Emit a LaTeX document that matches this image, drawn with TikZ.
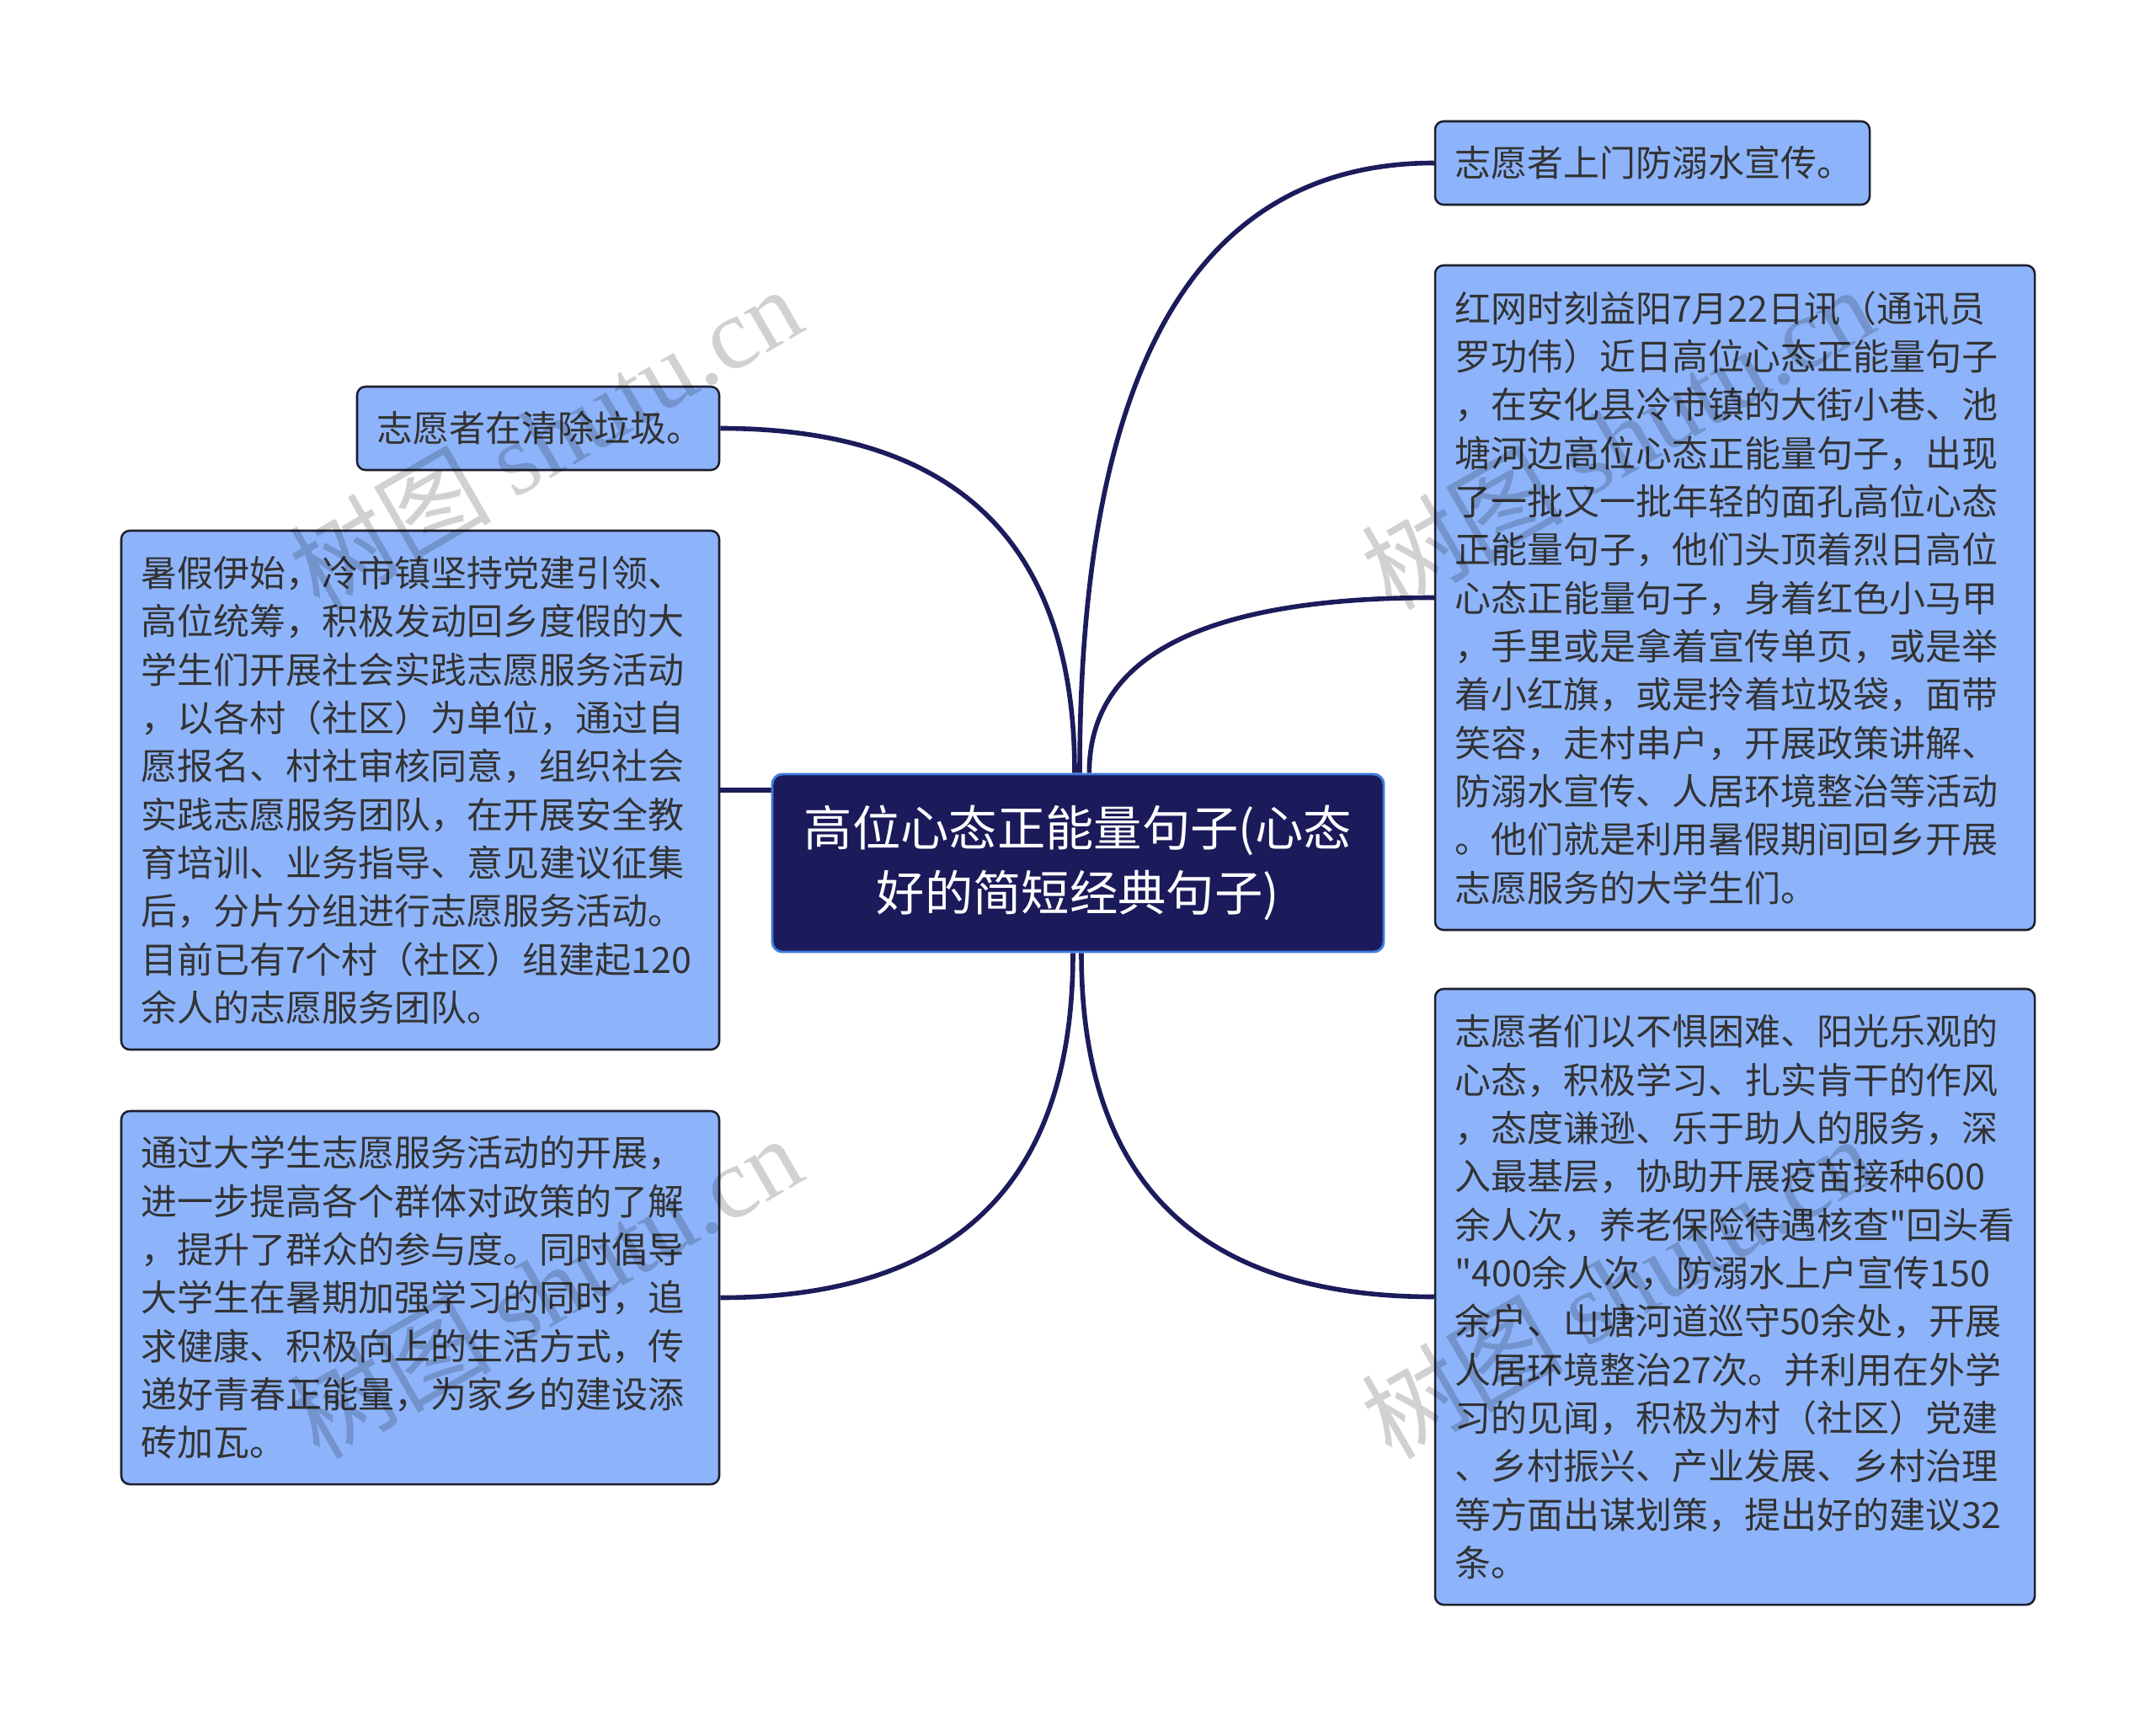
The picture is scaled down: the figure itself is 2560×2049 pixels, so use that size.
\documentclass[tikz,border=0pt]{standalone}
\usepackage{fontspec}
\setmainfont{Noto Sans CJK SC}[Ligatures=TeXOff]
\newfontfamily\wmlatin{Liberation Serif}
\usetikzlibrary{calc,backgrounds}
\definecolor{boxfill}{HTML}{8DB4FB}
\definecolor{boxline}{HTML}{1F1F2E}
\definecolor{linkc}{HTML}{1C1B5B}
\definecolor{cenfill}{HTML}{1B1A5A}
\definecolor{cenline}{HTML}{3F7BDD}
\definecolor{txt}{HTML}{333333}
\tikzset{
  leaf/.style={draw=boxline, line width=1.9pt, fill=boxfill, rounded corners=7.5pt,
    inner sep=0pt, align=left, text=txt, font=\fontsize{32.25pt}{43pt}\selectfont},
  root/.style={draw=cenline, line width=2.2pt, fill=cenfill, rounded corners=9pt,
    inner sep=0pt, align=center, text=white, font=\fontsize{43pt}{57.5pt}\selectfont},
  link/.style={draw=linkc, line width=4.2pt},
  wm/.style={rotate=30, text=black, opacity=0.18, inner sep=0pt,
    font=\fontsize{90pt}{90pt}\selectfont}
}
\begin{document}
\begin{tikzpicture}[x=0.75pt,y=-0.75pt]
\useasboundingbox (0,0) rectangle (2560,2049);

\node[root, minimum width=544.5pt, minimum height=158.25pt, text width=520pt] (cen) at (1280,1024.5)
  {高位心态正能量句子(心态\\好的简短经典句子)};

\node[leaf, minimum width=387pt, minimum height=74.25pt, text width=352.5pt] (rt) at (1962,193.5)
  {志愿者上门防溺水宣传。};

\node[leaf, minimum width=534pt, minimum height=591.75pt, text width=499.5pt] (rbig) at (2060,709.5)
  {红网时刻益阳7月22日讯（通讯员\\
罗功伟）近日高位心态正能量句子\\
，在安化县冷市镇的大街小巷、池\\
塘河边高位心态正能量句子，出现\\
了一批又一批年轻的面孔高位心态\\
正能量句子，他们头顶着烈日高位\\
心态正能量句子，身着红色小马甲\\
，手里或是拿着宣传单页，或是举\\
着小红旗，或是拎着垃圾袋，面带\\
笑容，走村串户，开展政策讲解、\\
防溺水宣传、人居环境整治等活动\\
。他们就是利用暑假期间回乡开展\\
志愿服务的大学生们。};

\node[leaf, minimum width=534pt, minimum height=548.25pt, text width=499.5pt] (rbot) at (2060,1539.5)
  {志愿者们以不惧困难、阳光乐观的\\
心态，积极学习、扎实肯干的作风\\
，态度谦逊、乐于助人的服务，深\\
入最基层，协助开展疫苗接种600\\
余人次，养老保险待遇核查"回头看\\
"400余人次，防溺水上户宣传150\\
余户、山塘河道巡守50余处，开展\\
人居环境整治27次。并利用在外学\\
习的见闻，积极为村（社区）党建\\
、乡村振兴、产业发展、乡村治理\\
等方面出谋划策，提出好的建议32\\
条。};

\node[leaf, minimum width=322.5pt, minimum height=74.25pt, text width=288pt] (lt) at (639,508.5)
  {志愿者在清除垃圾。};

\node[leaf, minimum width=532.5pt, minimum height=462pt, text width=498pt] (lmid) at (499,938)
  {暑假伊始，冷市镇坚持党建引领、\\
高位统筹，积极发动回乡度假的大\\
学生们开展社会实践志愿服务活动\\
，以各村（社区）为单位，通过自\\
愿报名、村社审核同意，组织社会\\
实践志愿服务团队，在开展安全教\\
育培训、业务指导、意见建议征集\\
后，分片分组进行志愿服务活动。\\
目前已有7个村（社区）组建起120\\
余人的志愿服务团队。};

\node[leaf, minimum width=532.5pt, minimum height=332.25pt, text width=498pt] (lbot) at (499,1540.5)
  {通过大学生志愿服务活动的开展，\\
进一步提高各个群体对政策的了解\\
，提升了群众的参与度。同时倡导\\
大学生在暑期加强学习的同时，追\\
求健康、积极向上的生活方式，传\\
递好青春正能量，为家乡的建设添\\
砖加瓦。};

\begin{pgfonlayer}{background}
  \fill[white] (0,0) rectangle (2560,2049);
  % upper connectors
  \path ([xshift=-3pt]cen.north) coordinate (a1);
  \coordinate (k1) at (a1 |- lt.east);
  \draw[link] (a1) .. controls ($(a1)!0.667!(k1)$) and ($(lt.east)!0.667!(k1)$) .. (lt.east);
  \path ([xshift=1.5pt]cen.north) coordinate (a2);
  \coordinate (k2) at (a2 |- rt.west);
  \draw[link] (a2) .. controls ($(a2)!0.667!(k2)$) and ($(rt.west)!0.667!(k2)$) .. (rt.west);
  \path ([xshift=10pt]cen.north) coordinate (a3);
  \coordinate (k3) at (a3 |- rbig.west);
  \draw[link] (a3) .. controls ($(a3)!0.667!(k3)$) and ($(rbig.west)!0.667!(k3)$) .. (rbig.west);
  % lower connectors
  \path ([xshift=-4.5pt]cen.south) coordinate (a4);
  \coordinate (k4) at (a4 |- lbot.east);
  \draw[link] (a4) .. controls ($(a4)!0.667!(k4)$) and ($(lbot.east)!0.667!(k4)$) .. (lbot.east);
  \path ([xshift=3pt]cen.south) coordinate (a5);
  \coordinate (k5) at (a5 |- rbot.west);
  \draw[link] (a5) .. controls ($(a5)!0.667!(k5)$) and ($(rbot.west)!0.667!(k5)$) .. (rbot.west);
  % straight connector
  \draw[link] (lmid.east) -- (lmid.east -| cen.west);
\end{pgfonlayer}

% watermarks
\node[wm] (w1) at (647,519) {树图 {\wmlatin shutu.cn}};
\node[wm] (w2) at (1920,519) {树图 {\wmlatin shutu.cn}};
\node[wm] (w3) at (647,1527) {树图 {\wmlatin shutu.cn}};
\node[wm] (w4) at (1920,1527) {树图 {\wmlatin shutu.cn}};
\end{tikzpicture}
\end{document}
